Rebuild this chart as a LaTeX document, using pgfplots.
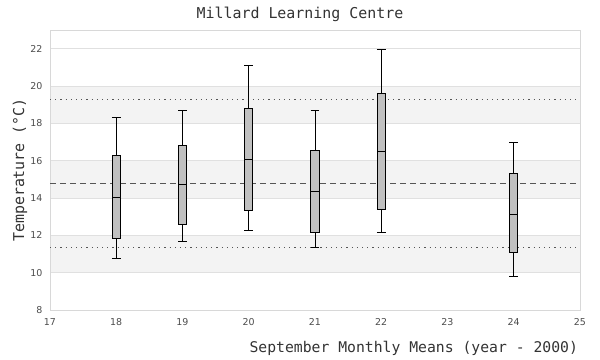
\documentclass[border=0pt]{standalone}
\usepackage{fontspec}
\setmainfont{DejaVu Sans}
\newfontfamily\monofont{DejaVu Sans Mono}
\usepackage{pgfplots}
\pgfplotsset{compat=1.18}
\usepgfplotslibrary{statistics}
\definecolor{band}{HTML}{F3F3F3}
\definecolor{gridc}{HTML}{E0E0E0}
\definecolor{frame}{HTML}{D8D8D8}
\definecolor{boxc}{HTML}{C0C0C0}
\definecolor{refc}{HTML}{555555}
\definecolor{txt}{HTML}{333333}
\begin{document}
\begin{tikzpicture}
\begin{axis}[
  set layers,
  at={(0,0)}, anchor=south west,
  scale only axis, width=530bp, height=280bp,
  xmin=17, xmax=25, ymin=8, ymax=23,
  xtick={17,18,...,25}, ytick={8,10,...,22},
  /pgf/number format/assume math mode=true,
  axis line style={draw=frame, line width=0.8bp},
  ymajorgrids, grid style={draw=gridc, line width=0.8bp},
  major tick length=0pt,
  ticklabel style={font=\fontsize{9.5}{11}\selectfont, text=black!70},
  xticklabel style={yshift=-5bp},
  yticklabel style={xshift=-4bp},
  title={Millard Learning Centre},
  title style={font=\monofont\fontsize{15}{17}\selectfont, text=txt, at={(0.4717,1)}, anchor=base, yshift=6bp},
  xlabel={September Monthly Means (year - 2000)},
  xlabel style={font=\monofont\fontsize{14.8}{17}\selectfont, text=txt, at={(1,0)}, anchor=base east, yshift=-42bp, xshift=1.5bp},
  ylabel={Temperature (\textdegree C)},
  ylabel style={font=\monofont\fontsize{15}{17}\selectfont, text=txt, at={(0,0.5)}, anchor=center, rotate=0, yshift=30bp},
  boxplot/draw direction=y,
]
% background bands
\addplot[on layer=axis background, fill=band, draw=none] coordinates {(17,10) (25,10) (25,12) (17,12)} -- cycle;
\addplot[on layer=axis background, fill=band, draw=none] coordinates {(17,14) (25,14) (25,16) (17,16)} -- cycle;
\addplot[on layer=axis background, fill=band, draw=none] coordinates {(17,18) (25,18) (25,20) (17,20)} -- cycle;
% reference lines
\addplot[refc, line width=0.8bp, dash pattern=on 1.2bp off 4bp] coordinates {(17,19.30) (25,19.30)};
\addplot[refc, line width=0.8bp, dash pattern=on 6bp off 4bp] coordinates {(17,14.79) (25,14.79)};
\addplot[refc, line width=0.8bp, dash pattern=on 1.2bp off 4bp] coordinates {(17,11.36) (25,11.36)};
% boxes
\pgfplotsset{mybox/.style={draw=black, fill=boxc, solid, line width=0.9bp, boxplot/box extend=0.125, boxplot/whisker extend=0.135}}
\addplot[mybox, boxplot prepared={draw position=18, lower whisker=10.77, lower quartile=11.84, median=14.04, upper quartile=16.26, upper whisker=18.29}] coordinates {};
\addplot[mybox, boxplot prepared={draw position=19, lower whisker=11.68, lower quartile=12.59, median=14.70, upper quartile=16.79, upper whisker=18.71}] coordinates {};
\addplot[mybox, boxplot prepared={draw position=20, lower whisker=12.27, lower quartile=13.35, median=16.08, upper quartile=18.78, upper whisker=21.10}] coordinates {};
\addplot[mybox, boxplot prepared={draw position=21, lower whisker=11.36, lower quartile=12.17, median=14.36, upper quartile=16.56, upper whisker=18.71}] coordinates {};
\addplot[mybox, boxplot prepared={draw position=22, lower whisker=12.17, lower quartile=13.40, median=16.51, upper quartile=19.62, upper whisker=21.98}] coordinates {};
\addplot[mybox, boxplot prepared={draw position=24, lower whisker=9.82, lower quartile=11.06, median=13.13, upper quartile=15.29, upper whisker=16.99}] coordinates {};
\end{axis}
\path (-50bp,-50bp) rectangle (550bp,310bp);
\end{tikzpicture}
\end{document}
